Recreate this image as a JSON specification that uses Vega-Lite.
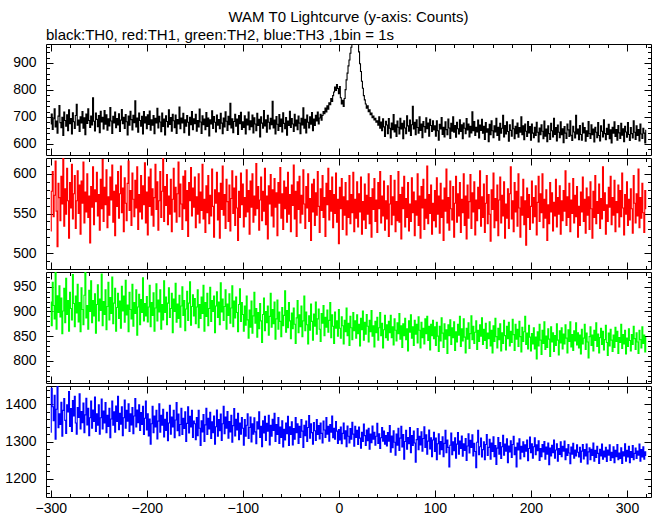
{
"$schema":"https://vega.github.io/schema/vega-lite/v6.json",
"padding":{"left":4,"right":2,"top":10,"bottom":0},
"title":{"text":"WAM T0 Lightcurve (y-axis: Counts)","anchor":"middle","frame":"group","offset":2},
"config":{"view":{"stroke":"black","strokeWidth":1},"title":{"font":"Liberation Sans","fontSize":15,"fontWeight":"normal","color":"black"},"axis":{"grid":false,"domain":false,"ticks":true,"zindex":1,"tickColor":"black","tickWidth":1,"labelColor":"black","labelFont":"Liberation Sans","labelFontSize":14,"labelPadding":10,"tickSize":7,"offset":-7,"labels":false,"format":"d"}},
"spacing":1,
"datasets":{
"one":[{"t":0,"a":700,"b":550,"c":880,"d":1300}],
"lc":[
{"t":-300,"a":674,"b":528,"c":919,"d":1325},{"t":-299,"a":711,"b":578,"c":871,"d":1444},{"t":-298,"a":654,"b":603,"c":959,"d":1394},{"t":-297,"a":693,"b":546,"c":912,"d":1356},{"t":-296,"a":730,"b":573,"c":885,"d":1425},{"t":-295,"a":663,"b":616,"c":986,"d":1306},{"t":-294,"a":685,"b":553,"c":864,"d":1387},{"t":-293,"a":640,"b":508,"c":932,"d":1456},{"t":-292,"a":703,"b":588,"c":898,"d":1337},{"t":-291,"a":742,"b":570,"c":952,"d":1375},
{"t":-290,"a":679,"b":541,"c":889,"d":1346},{"t":-289,"a":660,"b":597,"c":927,"d":1406},{"t":-288,"a":699,"b":562,"c":855,"d":1314},{"t":-287,"a":631,"b":625,"c":901,"d":1384},{"t":-286,"a":718,"b":534,"c":947,"d":1416},{"t":-285,"a":687,"b":581,"c":877,"d":1357},{"t":-284,"a":666,"b":549,"c":967,"d":1322},{"t":-283,"a":708,"b":607,"c":894,"d":1399},{"t":-282,"a":649,"b":566,"c":922,"d":1380},{"t":-281,"a":726,"b":519,"c":860,"d":1435},
{"t":-280,"a":675,"b":589,"c":939,"d":1341},{"t":-279,"a":694,"b":557,"c":906,"d":1389},{"t":-278,"a":637,"b":612,"c":883,"d":1327},{"t":-277,"a":715,"b":543,"c":975,"d":1411},{"t":-276,"a":682,"b":575,"c":916,"d":1369},{"t":-275,"a":657,"b":598,"c":869,"d":1422},{"t":-274,"a":705,"b":531,"c":931,"d":1350},{"t":-273,"a":747,"b":566,"c":897,"d":1320},{"t":-272,"a":669,"b":604,"c":955,"d":1392},{"t":-271,"a":688,"b":550,"c":879,"d":1365},
{"t":-270,"a":646,"b":586,"c":918,"d":1429},{"t":-269,"a":700,"b":524,"c":859,"d":1334},{"t":-268,"a":678,"b":591,"c":948,"d":1381},{"t":-267,"a":720,"b":563,"c":904,"d":1351},{"t":-266,"a":658,"b":615,"c":873,"d":1404},{"t":-265,"a":697,"b":538,"c":933,"d":1324},{"t":-264,"a":634,"b":577,"c":983,"d":1372},{"t":-263,"a":711,"b":552,"c":887,"d":1417},{"t":-262,"a":676,"b":600,"c":912,"d":1345},{"t":-261,"a":730,"b":545,"c":864,"d":1390},
{"t":-260,"a":687,"b":572,"c":943,"d":1316},{"t":-259,"a":661,"b":513,"c":900,"d":1364},{"t":-258,"a":703,"b":584,"c":962,"d":1409},{"t":-257,"a":670,"b":558,"c":877,"d":1336},{"t":-256,"a":771,"b":609,"c":922,"d":1385},{"t":-255,"a":684,"b":536,"c":891,"d":1354},{"t":-254,"a":648,"b":580,"c":936,"d":1420},{"t":-253,"a":714,"b":565,"c":856,"d":1327},{"t":-252,"a":691,"b":602,"c":914,"d":1375},{"t":-251,"a":664,"b":547,"c":954,"d":1344},
{"t":-250,"a":705,"b":574,"c":881,"d":1399},{"t":-249,"a":642,"b":529,"c":925,"d":1320},{"t":-248,"a":721,"b":593,"c":902,"d":1364},{"t":-247,"a":681,"b":556,"c":976,"d":1415},{"t":-246,"a":699,"b":618,"c":871,"d":1334},{"t":-245,"a":655,"b":540,"c":920,"d":1382},{"t":-244,"a":724,"b":583,"c":894,"d":1350},{"t":-243,"a":673,"b":561,"c":944,"d":1405},{"t":-242,"a":708,"b":605,"c":863,"d":1324},{"t":-241,"a":651,"b":532,"c":910,"d":1371},
{"t":-240,"a":693,"b":571,"c":959,"d":1341},{"t":-239,"a":667,"b":548,"c":883,"d":1390},{"t":-238,"a":735,"b":596,"c":928,"d":1310},{"t":-237,"a":685,"b":567,"c":896,"d":1361},{"t":-236,"a":639,"b":611,"c":970,"d":1409},{"t":-235,"a":702,"b":539,"c":875,"d":1344},{"t":-234,"a":678,"b":578,"c":917,"d":1380},{"t":-233,"a":718,"b":522,"c":947,"d":1325},{"t":-232,"a":660,"b":586,"c":860,"d":1396},{"t":-231,"a":694,"b":559,"c":908,"d":1354},
{"t":-230,"a":670,"b":603,"c":937,"d":1422},{"t":-229,"a":712,"b":544,"c":886,"d":1332},{"t":-228,"a":646,"b":575,"c":921,"d":1376},{"t":-227,"a":688,"b":610,"c":866,"d":1347},{"t":-226,"a":727,"b":551,"c":951,"d":1394},{"t":-225,"a":675,"b":582,"c":901,"d":1316},{"t":-224,"a":699,"b":527,"c":931,"d":1364},{"t":-223,"a":657,"b":595,"c":878,"d":1412},{"t":-222,"a":709,"b":563,"c":963,"d":1336},{"t":-221,"a":682,"b":541,"c":893,"d":1384},
{"t":-220,"a":633,"b":588,"c":913,"d":1355},{"t":-219,"a":703,"b":616,"c":859,"d":1402},{"t":-218,"a":669,"b":554,"c":939,"d":1327},{"t":-217,"a":721,"b":579,"c":904,"d":1375},{"t":-216,"a":690,"b":535,"c":885,"d":1345},{"t":-215,"a":652,"b":601,"c":955,"d":1392},{"t":-214,"a":706,"b":568,"c":870,"d":1321},{"t":-213,"a":679,"b":546,"c":918,"d":1369},{"t":-212,"a":760,"b":592,"c":896,"d":1416},{"t":-211,"a":663,"b":557,"c":944,"d":1339},
{"t":-210,"a":696,"b":609,"c":852,"d":1385},{"t":-209,"a":643,"b":530,"c":909,"d":1351},{"t":-208,"a":714,"b":574,"c":935,"d":1399},{"t":-207,"a":687,"b":552,"c":873,"d":1330},{"t":-206,"a":666,"b":598,"c":924,"d":1378},{"t":-205,"a":702,"b":543,"c":898,"d":1346},{"t":-204,"a":637,"b":585,"c":968,"d":1395},{"t":-203,"a":720,"b":561,"c":881,"d":1319},{"t":-202,"a":678,"b":614,"c":916,"d":1363},{"t":-201,"a":700,"b":538,"c":891,"d":1409},
{"t":-200,"a":656,"b":577,"c":930,"d":1331},{"t":-199,"a":708,"b":523,"c":879,"d":1375},{"t":-198,"a":672,"b":596,"c":909,"d":1315},{"t":-197,"a":722,"b":559,"c":953,"d":1361},{"t":-196,"a":651,"b":606,"c":869,"d":1293},{"t":-195,"a":689,"b":548,"c":918,"d":1348},{"t":-194,"a":669,"b":581,"c":892,"d":1395},{"t":-193,"a":705,"b":534,"c":938,"d":1324},{"t":-192,"a":638,"b":570,"c":860,"d":1369},{"t":-191,"a":695,"b":612,"c":907,"d":1339},
{"t":-190,"a":678,"b":555,"c":956,"d":1384},{"t":-189,"a":732,"b":590,"c":881,"d":1307},{"t":-188,"a":659,"b":529,"c":923,"d":1355},{"t":-187,"a":702,"b":566,"c":899,"d":1402},{"t":-186,"a":681,"b":603,"c":944,"d":1325},{"t":-185,"a":645,"b":545,"c":864,"d":1371},{"t":-184,"a":714,"b":578,"c":914,"d":1344},{"t":-183,"a":665,"b":620,"c":883,"d":1387},{"t":-182,"a":692,"b":540,"c":962,"d":1312},{"t":-181,"a":633,"b":584,"c":898,"d":1360},
{"t":-180,"a":704,"b":560,"c":929,"d":1330},{"t":-179,"a":683,"b":599,"c":873,"d":1379},{"t":-178,"a":663,"b":536,"c":917,"d":1302},{"t":-177,"a":726,"b":572,"c":948,"d":1350},{"t":-176,"a":672,"b":549,"c":888,"d":1398},{"t":-175,"a":698,"b":593,"c":906,"d":1320},{"t":-174,"a":647,"b":527,"c":937,"d":1366},{"t":-173,"a":710,"b":568,"c":857,"d":1339},{"t":-172,"a":686,"b":607,"c":925,"d":1384},{"t":-171,"a":660,"b":552,"c":900,"d":1310},
{"t":-170,"a":707,"b":583,"c":957,"d":1358},{"t":-169,"a":639,"b":539,"c":878,"d":1405},{"t":-168,"a":690,"b":575,"c":915,"d":1329},{"t":-167,"a":674,"b":615,"c":886,"d":1374},{"t":-166,"a":737,"b":546,"c":933,"d":1316},{"t":-165,"a":656,"b":587,"c":868,"d":1346},{"t":-164,"a":696,"b":562,"c":911,"d":1390},{"t":-163,"a":678,"b":530,"c":950,"d":1319},{"t":-162,"a":713,"b":597,"c":892,"d":1363},{"t":-161,"a":642,"b":556,"c":922,"d":1335},
{"t":-160,"a":689,"b":604,"c":861,"d":1380},{"t":-159,"a":666,"b":541,"c":905,"d":1300},{"t":-158,"a":705,"b":579,"c":941,"d":1349},{"t":-157,"a":680,"b":521,"c":882,"d":1394},{"t":-156,"a":632,"b":589,"c":917,"d":1323},{"t":-155,"a":699,"b":566,"c":960,"d":1368},{"t":-154,"a":671,"b":608,"c":872,"d":1339},{"t":-153,"a":720,"b":547,"c":910,"d":1384},{"t":-152,"a":653,"b":582,"c":934,"d":1311},{"t":-151,"a":693,"b":558,"c":891,"d":1355},
{"t":-150,"a":675,"b":596,"c":926,"d":1348},{"t":-149,"a":710,"b":532,"c":875,"d":1305},{"t":-148,"a":647,"b":571,"c":909,"d":1365},{"t":-147,"a":687,"b":549,"c":944,"d":1316},{"t":-146,"a":663,"b":600,"c":867,"d":1384},{"t":-145,"a":729,"b":538,"c":914,"d":1336},{"t":-144,"a":681,"b":577,"c":886,"d":1289},{"t":-143,"a":639,"b":554,"c":929,"d":1356},{"t":-142,"a":704,"b":612,"c":896,"d":1326},{"t":-141,"a":671,"b":543,"c":953,"d":1373},
{"t":-140,"a":692,"b":568,"c":860,"d":1300},{"t":-139,"a":653,"b":526,"c":918,"d":1345},{"t":-138,"a":716,"b":585,"c":890,"d":1390},{"t":-137,"a":665,"b":551,"c":937,"d":1319},{"t":-136,"a":696,"b":598,"c":871,"d":1363},{"t":-135,"a":630,"b":537,"c":906,"d":1334},{"t":-134,"a":689,"b":573,"c":949,"d":1379},{"t":-133,"a":674,"b":547,"c":880,"d":1308},{"t":-132,"a":723,"b":606,"c":922,"d":1353},{"t":-131,"a":657,"b":559,"c":900,"d":1324},
{"t":-130,"a":701,"b":520,"c":931,"d":1369},{"t":-129,"a":680,"b":580,"c":857,"d":1293},{"t":-128,"a":644,"b":563,"c":911,"d":1340},{"t":-127,"a":707,"b":602,"c":940,"d":1385},{"t":-126,"a":669,"b":542,"c":888,"d":1314},{"t":-125,"a":690,"b":576,"c":919,"d":1359},{"t":-124,"a":656,"b":519,"c":873,"d":1329},{"t":-123,"a":713,"b":588,"c":958,"d":1374},{"t":-122,"a":677,"b":555,"c":899,"d":1303},{"t":-121,"a":638,"b":610,"c":925,"d":1348},
{"t":-120,"a":696,"b":548,"c":882,"d":1395},{"t":-119,"a":663,"b":574,"c":910,"d":1321},{"t":-118,"a":719,"b":531,"c":944,"d":1366},{"t":-117,"a":684,"b":593,"c":864,"d":1336},{"t":-116,"a":650,"b":565,"c":915,"d":1381},{"t":-115,"a":702,"b":540,"c":892,"d":1309},{"t":-114,"a":671,"b":586,"c":936,"d":1354},{"t":-113,"a":750,"b":528,"c":876,"d":1326},{"t":-112,"a":659,"b":569,"c":907,"d":1371},{"t":-111,"a":693,"b":604,"c":952,"d":1298},
{"t":-110,"a":642,"b":550,"c":869,"d":1343},{"t":-109,"a":683,"b":582,"c":921,"d":1389},{"t":-108,"a":710,"b":535,"c":887,"d":1315},{"t":-107,"a":666,"b":597,"c":929,"d":1360},{"t":-106,"a":692,"b":557,"c":898,"d":1331},{"t":-105,"a":635,"b":516,"c":859,"d":1376},{"t":-104,"a":705,"b":578,"c":914,"d":1305},{"t":-103,"a":675,"b":545,"c":946,"d":1350},{"t":-102,"a":717,"b":601,"c":880,"d":1320},{"t":-101,"a":654,"b":561,"c":918,"d":1365},
{"t":-100,"a":682,"b":587,"c":894,"d":1336},{"t":-99,"a":661,"b":533,"c":860,"d":1290},{"t":-98,"a":704,"b":570,"c":911,"d":1359},{"t":-97,"a":637,"b":546,"c":872,"d":1314},{"t":-96,"a":692,"b":605,"c":931,"d":1344},{"t":-95,"a":670,"b":552,"c":883,"d":1375},{"t":-94,"a":718,"b":579,"c":846,"d":1308},{"t":-93,"a":653,"b":524,"c":903,"d":1338},{"t":-92,"a":686,"b":591,"c":868,"d":1366},{"t":-91,"a":664,"b":558,"c":921,"d":1299},
{"t":-90,"a":707,"b":600,"c":856,"d":1348},{"t":-89,"a":641,"b":539,"c":891,"d":1320},{"t":-88,"a":697,"b":572,"c":939,"d":1364},{"t":-87,"a":674,"b":548,"c":876,"d":1326},{"t":-86,"a":649,"b":613,"c":906,"d":1294},{"t":-85,"a":713,"b":556,"c":848,"d":1353},{"t":-84,"a":668,"b":584,"c":898,"d":1334},{"t":-83,"a":691,"b":529,"c":865,"d":1380},{"t":-82,"a":626,"b":567,"c":916,"d":1311},{"t":-81,"a":700,"b":596,"c":881,"d":1341},
{"t":-80,"a":677,"b":541,"c":837,"d":1286},{"t":-79,"a":658,"b":578,"c":894,"d":1356},{"t":-78,"a":724,"b":553,"c":927,"d":1323},{"t":-77,"a":667,"b":607,"c":861,"d":1368},{"t":-76,"a":689,"b":536,"c":900,"d":1303},{"t":-75,"a":643,"b":572,"c":877,"d":1349},{"t":-74,"a":706,"b":518,"c":911,"d":1328},{"t":-73,"a":680,"b":585,"c":852,"d":1371},{"t":-72,"a":655,"b":562,"c":890,"d":1291},{"t":-71,"a":695,"b":599,"c":937,"d":1344},
{"t":-70,"a":671,"b":547,"c":868,"d":1314},{"t":-69,"a":758,"b":580,"c":904,"d":1360},{"t":-68,"a":659,"b":533,"c":875,"d":1330},{"t":-67,"a":688,"b":594,"c":919,"d":1376},{"t":-66,"a":637,"b":558,"c":844,"d":1300},{"t":-65,"a":701,"b":576,"c":885,"d":1346},{"t":-64,"a":673,"b":522,"c":923,"d":1319},{"t":-63,"a":650,"b":589,"c":864,"d":1365},{"t":-62,"a":709,"b":563,"c":899,"d":1295},{"t":-61,"a":665,"b":608,"c":880,"d":1339},
{"t":-60,"a":692,"b":544,"c":849,"d":1311},{"t":-59,"a":644,"b":575,"c":908,"d":1356},{"t":-58,"a":715,"b":530,"c":871,"d":1285},{"t":-57,"a":676,"b":591,"c":892,"d":1333},{"t":-56,"a":656,"b":556,"c":942,"d":1304},{"t":-55,"a":698,"b":583,"c":858,"d":1350},{"t":-54,"a":632,"b":539,"c":902,"d":1321},{"t":-53,"a":685,"b":602,"c":867,"d":1368},{"t":-52,"a":668,"b":549,"c":918,"d":1289},{"t":-51,"a":721,"b":574,"c":881,"d":1340},
{"t":-50,"a":661,"b":527,"c":845,"d":1319},{"t":-49,"a":694,"b":586,"c":897,"d":1353},{"t":-48,"a":674,"b":560,"c":865,"d":1291},{"t":-47,"a":646,"b":611,"c":907,"d":1335},{"t":-46,"a":710,"b":543,"c":874,"d":1306},{"t":-45,"a":667,"b":578,"c":835,"d":1365},{"t":-44,"a":688,"b":521,"c":887,"d":1324},{"t":-43,"a":653,"b":590,"c":922,"d":1348},{"t":-42,"a":703,"b":555,"c":857,"d":1295},{"t":-41,"a":677,"b":597,"c":893,"d":1341},
{"t":-40,"a":638,"b":538,"c":869,"d":1311},{"t":-39,"a":695,"b":573,"c":911,"d":1359},{"t":-38,"a":670,"b":549,"c":849,"d":1328},{"t":-37,"a":734,"b":605,"c":881,"d":1284},{"t":-36,"a":658,"b":562,"c":931,"d":1344},{"t":-35,"a":691,"b":531,"c":861,"d":1316},{"t":-34,"a":641,"b":584,"c":899,"d":1355},{"t":-33,"a":707,"b":557,"c":873,"d":1300},{"t":-32,"a":680,"b":600,"c":834,"d":1338},{"t":-31,"a":659,"b":540,"c":891,"d":1370},
{"t":-30,"a":700,"b":569,"c":862,"d":1309},{"t":-29,"a":673,"b":516,"c":915,"d":1348},{"t":-28,"a":716,"b":587,"c":880,"d":1324},{"t":-27,"a":649,"b":552,"c":842,"d":1293},{"t":-26,"a":692,"b":593,"c":895,"d":1351},{"t":-25,"a":668,"b":535,"c":870,"d":1329},{"t":-24,"a":706,"b":576,"c":919,"d":1303},{"t":-23,"a":685,"b":548,"c":854,"d":1359},{"t":-22,"a":718,"b":603,"c":885,"d":1319},{"t":-21,"a":674,"b":559,"c":905,"d":1343},
{"t":-20,"a":696,"b":526,"c":864,"d":1307},{"t":-19,"a":710,"b":581,"c":839,"d":1350},{"t":-18,"a":688,"b":554,"c":896,"d":1322},{"t":-17,"a":705,"b":598,"c":876,"d":1296},{"t":-16,"a":720,"b":545,"c":912,"d":1355},{"t":-15,"a":712,"b":570,"c":851,"d":1331},{"t":-14,"a":733,"b":521,"c":888,"d":1311},{"t":-13,"a":718,"b":588,"c":868,"d":1365},{"t":-12,"a":741,"b":561,"c":903,"d":1320},{"t":-11,"a":729,"b":607,"c":858,"d":1341},
{"t":-10,"a":752,"b":542,"c":882,"d":1301},{"t":-9,"a":745,"b":579,"c":918,"d":1346},{"t":-8,"a":768,"b":553,"c":847,"d":1325},{"t":-7,"a":757,"b":596,"c":893,"d":1369},{"t":-6,"a":779,"b":532,"c":870,"d":1310},{"t":-5,"a":792,"b":574,"c":835,"d":1336},{"t":-4,"a":811,"b":550,"c":899,"d":1306},{"t":-3,"a":798,"b":601,"c":866,"d":1354},{"t":-2,"a":820,"b":539,"c":881,"d":1328},{"t":-1,"a":805,"b":568,"c":850,"d":1295},
{"t":0,"a":786,"b":512,"c":904,"d":1332},{"t":1,"a":812,"b":583,"c":866,"d":1304},{"t":2,"a":771,"b":556,"c":846,"d":1339},{"t":3,"a":748,"b":594,"c":889,"d":1294},{"t":4,"a":762,"b":530,"c":871,"d":1322},{"t":5,"a":739,"b":571,"c":834,"d":1350},{"t":6,"a":768,"b":548,"c":882,"d":1307},{"t":7,"a":801,"b":589,"c":859,"d":1329},{"t":8,"a":837,"b":523,"c":907,"d":1286},{"t":9,"a":862,"b":566,"c":851,"d":1342},
{"t":10,"a":889,"b":545,"c":876,"d":1314},{"t":11,"a":911,"b":598,"c":831,"d":1296},{"t":12,"a":936,"b":537,"c":890,"d":1335},{"t":13,"a":958,"b":574,"c":867,"d":1306},{"t":14,"a":985,"b":551,"c":843,"d":1352},{"t":15,"a":1012,"b":602,"c":898,"d":1320},{"t":16,"a":978,"b":527,"c":861,"d":1287},{"t":17,"a":1004,"b":568,"c":881,"d":1341},{"t":18,"a":992,"b":544,"c":846,"d":1311},{"t":19,"a":1021,"b":590,"c":893,"d":1330},
{"t":20,"a":968,"b":533,"c":855,"d":1292},{"t":21,"a":941,"b":575,"c":874,"d":1339},{"t":22,"a":897,"b":552,"c":830,"d":1309},{"t":23,"a":868,"b":596,"c":886,"d":1282},{"t":24,"a":832,"b":524,"c":863,"d":1325},{"t":25,"a":806,"b":565,"c":901,"d":1300},{"t":26,"a":779,"b":542,"c":842,"d":1347},{"t":27,"a":763,"b":587,"c":878,"d":1316},{"t":28,"a":748,"b":531,"c":854,"d":1289},{"t":29,"a":732,"b":573,"c":894,"d":1331},
{"t":30,"a":741,"b":549,"c":870,"d":1302},{"t":31,"a":719,"b":600,"c":838,"d":1336},{"t":32,"a":726,"b":537,"c":882,"d":1279},{"t":33,"a":708,"b":570,"c":859,"d":1320},{"t":34,"a":714,"b":520,"c":902,"d":1297},{"t":35,"a":697,"b":581,"c":850,"d":1342},{"t":36,"a":703,"b":555,"c":871,"d":1306},{"t":37,"a":689,"b":594,"c":828,"d":1325},{"t":38,"a":695,"b":540,"c":880,"d":1290},{"t":39,"a":680,"b":567,"c":857,"d":1314},
{"t":40,"a":686,"b":526,"c":888,"d":1349},{"t":41,"a":669,"b":589,"c":842,"d":1295},{"t":42,"a":700,"b":556,"c":867,"d":1321},{"t":43,"a":658,"b":603,"c":898,"d":1281},{"t":44,"a":681,"b":538,"c":851,"d":1310},{"t":45,"a":649,"b":572,"c":876,"d":1338},{"t":46,"a":693,"b":547,"c":826,"d":1301},{"t":47,"a":663,"b":591,"c":863,"d":1328},{"t":48,"a":628,"b":529,"c":892,"d":1293},{"t":49,"a":684,"b":566,"c":847,"d":1316},
{"t":50,"a":670,"b":543,"c":873,"d":1288},{"t":51,"a":638,"b":585,"c":842,"d":1324},{"t":52,"a":694,"b":521,"c":880,"d":1301},{"t":53,"a":658,"b":562,"c":857,"d":1343},{"t":54,"a":622,"b":598,"c":892,"d":1271},{"t":55,"a":677,"b":536,"c":847,"d":1315},{"t":56,"a":653,"b":571,"c":869,"d":1283},{"t":57,"a":709,"b":548,"c":832,"d":1329},{"t":58,"a":644,"b":592,"c":885,"d":1298},{"t":59,"a":671,"b":527,"c":862,"d":1263},
{"t":60,"a":628,"b":565,"c":840,"d":1320},{"t":61,"a":685,"b":541,"c":877,"d":1290},{"t":62,"a":662,"b":603,"c":855,"d":1336},{"t":63,"a":637,"b":539,"c":896,"d":1276},{"t":64,"a":695,"b":574,"c":844,"d":1309},{"t":65,"a":655,"b":518,"c":871,"d":1341},{"t":66,"a":676,"b":583,"c":827,"d":1285},{"t":67,"a":619,"b":556,"c":875,"d":1319},{"t":68,"a":686,"b":597,"c":851,"d":1252},{"t":69,"a":659,"b":533,"c":886,"d":1300},
{"t":70,"a":638,"b":569,"c":843,"d":1330},{"t":71,"a":704,"b":545,"c":865,"d":1279},{"t":72,"a":667,"b":589,"c":820,"d":1311},{"t":73,"a":647,"b":528,"c":881,"d":1294},{"t":74,"a":688,"b":562,"c":858,"d":1338},{"t":75,"a":631,"b":540,"c":893,"d":1270},{"t":76,"a":671,"b":595,"c":846,"d":1316},{"t":77,"a":739,"b":551,"c":869,"d":1289},{"t":78,"a":655,"b":577,"c":831,"d":1328},{"t":79,"a":680,"b":522,"c":882,"d":1296},
{"t":80,"a":634,"b":566,"c":854,"d":1244},{"t":81,"a":689,"b":548,"c":874,"d":1305},{"t":82,"a":661,"b":600,"c":836,"d":1335},{"t":83,"a":640,"b":535,"c":889,"d":1278},{"t":84,"a":700,"b":572,"c":862,"d":1314},{"t":85,"a":650,"b":519,"c":826,"d":1291},{"t":86,"a":674,"b":584,"c":878,"d":1326},{"t":87,"a":623,"b":557,"c":847,"d":1274},{"t":88,"a":683,"b":593,"c":866,"d":1308},{"t":89,"a":664,"b":530,"c":834,"d":1340},
{"t":90,"a":643,"b":568,"c":885,"d":1284},{"t":91,"a":697,"b":544,"c":855,"d":1318},{"t":92,"a":656,"b":610,"c":890,"d":1266},{"t":93,"a":677,"b":537,"c":841,"d":1301},{"t":94,"a":629,"b":574,"c":870,"d":1331},{"t":95,"a":691,"b":550,"c":822,"d":1280},{"t":96,"a":668,"b":586,"c":874,"d":1310},{"t":97,"a":646,"b":524,"c":851,"d":1259},{"t":98,"a":686,"b":563,"c":882,"d":1304},{"t":99,"a":652,"b":541,"c":845,"d":1325},
{"t":100,"a":667,"b":579,"c":869,"d":1273},{"t":101,"a":629,"b":533,"c":831,"d":1309},{"t":102,"a":686,"b":595,"c":878,"d":1251},{"t":103,"a":649,"b":549,"c":850,"d":1294},{"t":104,"a":614,"b":572,"c":819,"d":1321},{"t":105,"a":673,"b":525,"c":870,"d":1266},{"t":106,"a":655,"b":588,"c":840,"d":1300},{"t":107,"a":698,"b":545,"c":887,"d":1278},{"t":108,"a":635,"b":567,"c":856,"d":1313},{"t":109,"a":662,"b":516,"c":827,"d":1259},
{"t":110,"a":626,"b":582,"c":875,"d":1295},{"t":111,"a":682,"b":553,"c":844,"d":1330},{"t":112,"a":653,"b":606,"c":863,"d":1270},{"t":113,"a":634,"b":538,"c":815,"d":1304},{"t":114,"a":692,"b":570,"c":873,"d":1284},{"t":115,"a":659,"b":529,"c":851,"d":1231},{"t":116,"a":620,"b":591,"c":883,"d":1290},{"t":117,"a":676,"b":556,"c":833,"d":1323},{"t":118,"a":647,"b":542,"c":867,"d":1264},{"t":119,"a":700,"b":584,"c":847,"d":1299},
{"t":120,"a":643,"b":520,"c":879,"d":1275},{"t":121,"a":668,"b":563,"c":821,"d":1310},{"t":122,"a":625,"b":597,"c":859,"d":1255},{"t":123,"a":680,"b":539,"c":838,"d":1293},{"t":124,"a":656,"b":575,"c":874,"d":1324},{"t":125,"a":637,"b":547,"c":852,"d":1266},{"t":126,"a":689,"b":589,"c":890,"d":1301},{"t":127,"a":646,"b":526,"c":829,"d":1281},{"t":128,"a":671,"b":568,"c":865,"d":1315},{"t":129,"a":619,"b":551,"c":840,"d":1260},
{"t":130,"a":677,"b":600,"c":885,"d":1294},{"t":131,"a":658,"b":535,"c":848,"d":1276},{"t":132,"a":638,"b":572,"c":816,"d":1308},{"t":133,"a":694,"b":518,"c":866,"d":1249},{"t":134,"a":652,"b":586,"c":844,"d":1288},{"t":135,"a":674,"b":544,"c":877,"d":1321},{"t":136,"a":626,"b":565,"c":825,"d":1269},{"t":137,"a":665,"b":599,"c":855,"d":1303},{"t":138,"a":641,"b":531,"c":891,"d":1284},{"t":139,"a":719,"b":576,"c":843,"d":1318},
{"t":140,"a":649,"b":552,"c":870,"d":1261},{"t":141,"a":683,"b":590,"c":835,"d":1295},{"t":142,"a":631,"b":523,"c":858,"d":1273},{"t":143,"a":662,"b":567,"c":881,"d":1229},{"t":144,"a":644,"b":541,"c":823,"d":1298},{"t":145,"a":688,"b":583,"c":862,"d":1330},{"t":146,"a":622,"b":556,"c":839,"d":1264},{"t":147,"a":670,"b":604,"c":873,"d":1286},{"t":148,"a":650,"b":534,"c":850,"d":1309},{"t":149,"a":691,"b":571,"c":887,"d":1258},
{"t":150,"a":640,"b":545,"c":833,"d":1278},{"t":151,"a":665,"b":587,"c":864,"d":1299},{"t":152,"a":617,"b":526,"c":841,"d":1251},{"t":153,"a":679,"b":563,"c":876,"d":1292},{"t":154,"a":643,"b":598,"c":825,"d":1319},{"t":155,"a":656,"b":537,"c":856,"d":1262},{"t":156,"a":608,"b":574,"c":845,"d":1284},{"t":157,"a":673,"b":549,"c":879,"d":1306},{"t":158,"a":634,"b":515,"c":830,"d":1252},{"t":159,"a":686,"b":580,"c":862,"d":1296},
{"t":160,"a":649,"b":555,"c":816,"d":1273},{"t":161,"a":623,"b":601,"c":871,"d":1313},{"t":162,"a":667,"b":532,"c":839,"d":1259},{"t":163,"a":644,"b":569,"c":886,"d":1289},{"t":164,"a":695,"b":541,"c":849,"d":1238},{"t":165,"a":631,"b":586,"c":826,"d":1282},{"t":166,"a":662,"b":522,"c":866,"d":1311},{"t":167,"a":614,"b":567,"c":843,"d":1266},{"t":168,"a":676,"b":596,"c":875,"d":1297},{"t":169,"a":640,"b":538,"c":820,"d":1254},
{"t":170,"a":658,"b":573,"c":857,"d":1286},{"t":171,"a":706,"b":547,"c":835,"d":1317},{"t":172,"a":626,"b":590,"c":882,"d":1263},{"t":173,"a":668,"b":519,"c":851,"d":1293},{"t":174,"a":637,"b":562,"c":822,"d":1274},{"t":175,"a":682,"b":544,"c":870,"d":1307},{"t":176,"a":646,"b":581,"c":845,"d":1243},{"t":177,"a":610,"b":531,"c":878,"d":1288},{"t":178,"a":671,"b":575,"c":830,"d":1272},{"t":179,"a":650,"b":609,"c":860,"d":1302},
{"t":180,"a":629,"b":543,"c":837,"d":1257},{"t":181,"a":689,"b":566,"c":884,"d":1292},{"t":182,"a":656,"b":527,"c":853,"d":1314},{"t":183,"a":619,"b":589,"c":821,"d":1264},{"t":184,"a":665,"b":552,"c":874,"d":1284},{"t":185,"a":638,"b":578,"c":844,"d":1231},{"t":186,"a":677,"b":534,"c":864,"d":1296},{"t":187,"a":625,"b":600,"c":829,"d":1277},{"t":188,"a":661,"b":557,"c":880,"d":1307},{"t":189,"a":643,"b":520,"c":849,"d":1253},
{"t":190,"a":700,"b":571,"c":818,"d":1287},{"t":191,"a":634,"b":548,"c":868,"d":1271},{"t":192,"a":667,"b":593,"c":839,"d":1299},{"t":193,"a":616,"b":536,"c":859,"d":1259},{"t":194,"a":674,"b":566,"c":890,"d":1291},{"t":195,"a":647,"b":510,"c":833,"d":1274},{"t":196,"a":628,"b":582,"c":856,"d":1304},{"t":197,"a":683,"b":545,"c":824,"d":1248},{"t":198,"a":641,"b":574,"c":872,"d":1281},{"t":199,"a":664,"b":530,"c":848,"d":1312},
{"t":200,"a":614,"b":559,"c":820,"d":1270},{"t":201,"a":674,"b":591,"c":855,"d":1294},{"t":202,"a":640,"b":538,"c":834,"d":1255},{"t":203,"a":623,"b":570,"c":867,"d":1286},{"t":204,"a":662,"b":546,"c":824,"d":1310},{"t":205,"a":631,"b":585,"c":848,"d":1264},{"t":206,"a":680,"b":523,"c":804,"d":1291},{"t":207,"a":643,"b":564,"c":859,"d":1275},{"t":208,"a":607,"b":597,"c":830,"d":1302},{"t":209,"a":659,"b":540,"c":874,"d":1249},
{"t":210,"a":634,"b":575,"c":842,"d":1281},{"t":211,"a":671,"b":551,"c":813,"d":1259},{"t":212,"a":647,"b":600,"c":862,"d":1292},{"t":213,"a":619,"b":532,"c":835,"d":1272},{"t":214,"a":685,"b":568,"c":879,"d":1300},{"t":215,"a":629,"b":544,"c":823,"d":1252},{"t":216,"a":655,"b":580,"c":850,"d":1285},{"t":217,"a":608,"b":516,"c":827,"d":1266},{"t":218,"a":667,"b":561,"c":865,"d":1296},{"t":219,"a":638,"b":537,"c":844,"d":1237},
{"t":220,"a":617,"b":589,"c":809,"d":1282},{"t":221,"a":676,"b":552,"c":869,"d":1261},{"t":222,"a":649,"b":576,"c":838,"d":1290},{"t":223,"a":626,"b":528,"c":857,"d":1270},{"t":224,"a":695,"b":564,"c":819,"d":1304},{"t":225,"a":635,"b":547,"c":851,"d":1255},{"t":226,"a":661,"b":593,"c":831,"d":1277},{"t":227,"a":611,"b":533,"c":875,"d":1294},{"t":228,"a":670,"b":570,"c":842,"d":1247},{"t":229,"a":643,"b":549,"c":812,"d":1281},
{"t":230,"a":623,"b":585,"c":861,"d":1265},{"t":231,"a":682,"b":524,"c":836,"d":1299},{"t":232,"a":634,"b":566,"c":867,"d":1259},{"t":233,"a":656,"b":541,"c":824,"d":1287},{"t":234,"a":605,"b":579,"c":854,"d":1274},{"t":235,"a":664,"b":553,"c":834,"d":1301},{"t":236,"a":640,"b":604,"c":873,"d":1251},{"t":237,"a":620,"b":535,"c":846,"d":1280},{"t":238,"a":674,"b":571,"c":816,"d":1262},{"t":239,"a":652,"b":545,"c":863,"d":1292},
{"t":240,"a":628,"b":588,"c":839,"d":1269},{"t":241,"a":686,"b":527,"c":879,"d":1240},{"t":242,"a":632,"b":567,"c":828,"d":1285},{"t":243,"a":613,"b":550,"c":853,"d":1266},{"t":244,"a":665,"b":594,"c":821,"d":1295},{"t":245,"a":644,"b":538,"c":861,"d":1255},{"t":246,"a":622,"b":573,"c":840,"d":1277},{"t":247,"a":706,"b":546,"c":877,"d":1261},{"t":248,"a":637,"b":584,"c":832,"d":1291},{"t":249,"a":655,"b":520,"c":857,"d":1271},
{"t":250,"a":616,"b":559,"c":826,"d":1258},{"t":251,"a":668,"b":535,"c":852,"d":1284},{"t":252,"a":635,"b":577,"c":814,"d":1244},{"t":253,"a":614,"b":552,"c":864,"d":1274},{"t":254,"a":677,"b":596,"c":834,"d":1292},{"t":255,"a":641,"b":540,"c":846,"d":1253},{"t":256,"a":661,"b":568,"c":874,"d":1278},{"t":257,"a":610,"b":525,"c":823,"d":1261},{"t":258,"a":649,"b":582,"c":856,"d":1293},{"t":259,"a":628,"b":548,"c":838,"d":1239},
{"t":260,"a":683,"b":571,"c":806,"d":1272},{"t":261,"a":638,"b":530,"c":849,"d":1283},{"t":262,"a":620,"b":590,"c":869,"d":1251},{"t":263,"a":671,"b":556,"c":831,"d":1279},{"t":264,"a":634,"b":519,"c":852,"d":1262},{"t":265,"a":655,"b":578,"c":820,"d":1296},{"t":266,"a":607,"b":545,"c":862,"d":1247},{"t":267,"a":662,"b":598,"c":841,"d":1276},{"t":268,"a":643,"b":537,"c":877,"d":1257},{"t":269,"a":623,"b":565,"c":829,"d":1287},
{"t":270,"a":679,"b":550,"c":854,"d":1268},{"t":271,"a":631,"b":587,"c":816,"d":1241},{"t":272,"a":611,"b":531,"c":847,"d":1279},{"t":273,"a":667,"b":569,"c":866,"d":1261},{"t":274,"a":647,"b":543,"c":833,"d":1293},{"t":275,"a":626,"b":609,"c":860,"d":1252},{"t":276,"a":689,"b":554,"c":822,"d":1274},{"t":277,"a":638,"b":576,"c":843,"d":1258},{"t":278,"a":616,"b":524,"c":872,"d":1284},{"t":279,"a":658,"b":561,"c":837,"d":1246},
{"t":280,"a":635,"b":540,"c":811,"d":1277},{"t":281,"a":673,"b":583,"c":856,"d":1263},{"t":282,"a":619,"b":558,"c":830,"d":1291},{"t":283,"a":652,"b":597,"c":864,"d":1249},{"t":284,"a":604,"b":536,"c":842,"d":1271},{"t":285,"a":662,"b":570,"c":819,"d":1256},{"t":286,"a":640,"b":548,"c":852,"d":1286},{"t":287,"a":682,"b":592,"c":827,"d":1243},{"t":288,"a":628,"b":527,"c":868,"d":1276},{"t":289,"a":653,"b":565,"c":839,"d":1259},
{"t":290,"a":614,"b":551,"c":860,"d":1292},{"t":291,"a":668,"b":586,"c":815,"d":1251},{"t":292,"a":641,"b":533,"c":847,"d":1269},{"t":293,"a":620,"b":579,"c":837,"d":1254},{"t":294,"a":676,"b":546,"c":874,"d":1283},{"t":295,"a":632,"b":601,"c":825,"d":1241},{"t":296,"a":656,"b":557,"c":853,"d":1272},{"t":297,"a":608,"b":523,"c":834,"d":1261},{"t":298,"a":665,"b":574,"c":862,"d":1294},{"t":299,"a":644,"b":549,"c":814,"d":1247},
{"t":300,"a":625,"b":590,"c":846,"d":1276},{"t":301,"a":679,"b":535,"c":829,"d":1258},{"t":302,"a":635,"b":568,"c":865,"d":1287},{"t":303,"a":613,"b":542,"c":841,"d":1243},{"t":304,"a":661,"b":581,"c":820,"d":1273},{"t":305,"a":638,"b":556,"c":853,"d":1257},{"t":306,"a":622,"b":525,"c":833,"d":1289},{"t":307,"a":686,"b":598,"c":870,"d":1251},{"t":308,"a":643,"b":563,"c":845,"d":1268},{"t":309,"a":617,"b":538,"c":823,"d":1282},
{"t":310,"a":667,"b":575,"c":857,"d":1254},{"t":311,"a":631,"b":547,"c":838,"d":1274},{"t":312,"a":653,"b":606,"c":815,"d":1263},{"t":313,"a":611,"b":532,"c":862,"d":1293},{"t":314,"a":674,"b":570,"c":843,"d":1247},{"t":315,"a":637,"b":544,"c":826,"d":1278},{"t":316,"a":620,"b":588,"c":869,"d":1258},{"t":317,"a":658,"b":551,"c":835,"d":1286},{"t":318,"a":640,"b":526,"c":852,"d":1252},{"t":319,"a":604,"b":579,"c":818,"d":1272},
{"t":320,"a":650,"b":556,"c":847,"d":1262}
]},
"vconcat":[
{"width":605,"height":111,
 "title":{"text":"black:TH0, red:TH1, green:TH2, blue:TH3 ,1bin = 1s","anchor":"start","frame":"group","offset":1},
 "layer":[
  {"data":{"name":"lc"},"mark":{"type":"line","interpolate":"step","color":"#000000","strokeWidth":1.1,"clip":true},
   "encoding":{"x":{"field":"t","type":"quantitative","title":null,"scale":{"domain":[-305,325],"nice":false,"zero":false},"axis":{"orient":"bottom","values":[-300,-200,-100,0,100,200,300]}},
   "y":{"field":"a","type":"quantitative","title":null,"scale":{"domain":[559,970],"nice":false,"zero":false},"axis":{"orient":"left","labels":true,"values":[600,700,800,900]}}}},
  {"data":{"name":"one"},"mark":{"type":"point","opacity":0},
   "encoding":{"x":{"field":"t","type":"quantitative","title":null,"scale":{"domain":[-305,325],"nice":false,"zero":false},"axis":{"orient":"top","values":[-300,-200,-100,0,100,200,300]}},
   "y":{"field":"a","type":"quantitative","title":null,"scale":{"domain":[559,970],"nice":false,"zero":false},"axis":{"orient":"right","values":[600,700,800,900]}}}},
  {"data":{"name":"one"},"mark":{"type":"point","opacity":0},
   "encoding":{"x":{"field":"t","type":"quantitative","title":null,"scale":{"domain":[-305,325],"nice":false,"zero":false},"axis":{"orient":"bottom","tickSize":3.5,"offset":-3.5,"values":[-300,-280,-260,-240,-220,-200,-180,-160,-140,-120,-100,-80,-60,-40,-20,0,20,40,60,80,100,120,140,160,180,200,220,240,260,280,300,320]}},
   "y":{"field":"a","type":"quantitative","title":null,"scale":{"domain":[559,970],"nice":false,"zero":false},"axis":{"orient":"left","tickSize":3.5,"offset":-3.5,"values":[580,600,620,640,660,680,700,720,740,760,780,800,820,840,860,880,900,920,940,960]}}}},
  {"data":{"name":"one"},"mark":{"type":"point","opacity":0},
   "encoding":{"x":{"field":"t","type":"quantitative","title":null,"scale":{"domain":[-305,325],"nice":false,"zero":false},"axis":{"orient":"top","tickSize":3.5,"offset":-3.5,"values":[-300,-280,-260,-240,-220,-200,-180,-160,-140,-120,-100,-80,-60,-40,-20,0,20,40,60,80,100,120,140,160,180,200,220,240,260,280,300,320]}},
   "y":{"field":"a","type":"quantitative","title":null,"scale":{"domain":[559,970],"nice":false,"zero":false},"axis":{"orient":"right","tickSize":3.5,"offset":-3.5,"values":[580,600,620,640,660,680,700,720,740,760,780,800,820,840,860,880,900,920,940,960]}}}}
 ],
 "resolve":{"axis":{"x":"independent","y":"independent"}}},
{"width":605,"height":111,
 "layer":[
  {"data":{"name":"lc"},"mark":{"type":"line","interpolate":"step","color":"#ff0000","strokeWidth":1.1,"clip":true},
   "encoding":{"x":{"field":"t","type":"quantitative","title":null,"scale":{"domain":[-305,325],"nice":false,"zero":false},"axis":{"orient":"bottom","values":[-300,-200,-100,0,100,200,300]}},
   "y":{"field":"b","type":"quantitative","title":null,"scale":{"domain":[480,620],"nice":false,"zero":false},"axis":{"orient":"left","labels":true,"values":[500,550,600]}}}},
  {"data":{"name":"one"},"mark":{"type":"point","opacity":0},
   "encoding":{"x":{"field":"t","type":"quantitative","title":null,"scale":{"domain":[-305,325],"nice":false,"zero":false},"axis":{"orient":"top","values":[-300,-200,-100,0,100,200,300]}},
   "y":{"field":"b","type":"quantitative","title":null,"scale":{"domain":[480,620],"nice":false,"zero":false},"axis":{"orient":"right","values":[500,550,600]}}}},
  {"data":{"name":"one"},"mark":{"type":"point","opacity":0},
   "encoding":{"x":{"field":"t","type":"quantitative","title":null,"scale":{"domain":[-305,325],"nice":false,"zero":false},"axis":{"orient":"bottom","tickSize":3.5,"offset":-3.5,"values":[-300,-280,-260,-240,-220,-200,-180,-160,-140,-120,-100,-80,-60,-40,-20,0,20,40,60,80,100,120,140,160,180,200,220,240,260,280,300,320]}},
   "y":{"field":"b","type":"quantitative","title":null,"scale":{"domain":[480,620],"nice":false,"zero":false},"axis":{"orient":"left","tickSize":3.5,"offset":-3.5,"values":[490,500,510,520,530,540,550,560,570,580,590,600,610]}}}},
  {"data":{"name":"one"},"mark":{"type":"point","opacity":0},
   "encoding":{"x":{"field":"t","type":"quantitative","title":null,"scale":{"domain":[-305,325],"nice":false,"zero":false},"axis":{"orient":"top","tickSize":3.5,"offset":-3.5,"values":[-300,-280,-260,-240,-220,-200,-180,-160,-140,-120,-100,-80,-60,-40,-20,0,20,40,60,80,100,120,140,160,180,200,220,240,260,280,300,320]}},
   "y":{"field":"b","type":"quantitative","title":null,"scale":{"domain":[480,620],"nice":false,"zero":false},"axis":{"orient":"right","tickSize":3.5,"offset":-3.5,"values":[490,500,510,520,530,540,550,560,570,580,590,600,610]}}}}
 ],
 "resolve":{"axis":{"x":"independent","y":"independent"}}},
{"width":605,"height":111,
 "layer":[
  {"data":{"name":"lc"},"mark":{"type":"line","interpolate":"step","color":"#00ff00","strokeWidth":1.1,"clip":true},
   "encoding":{"x":{"field":"t","type":"quantitative","title":null,"scale":{"domain":[-305,325],"nice":false,"zero":false},"axis":{"orient":"bottom","values":[-300,-200,-100,0,100,200,300]}},
   "y":{"field":"c","type":"quantitative","title":null,"scale":{"domain":[755,980],"nice":false,"zero":false},"axis":{"orient":"left","labels":true,"values":[800,850,900,950]}}}},
  {"data":{"name":"one"},"mark":{"type":"point","opacity":0},
   "encoding":{"x":{"field":"t","type":"quantitative","title":null,"scale":{"domain":[-305,325],"nice":false,"zero":false},"axis":{"orient":"top","values":[-300,-200,-100,0,100,200,300]}},
   "y":{"field":"c","type":"quantitative","title":null,"scale":{"domain":[755,980],"nice":false,"zero":false},"axis":{"orient":"right","values":[800,850,900,950]}}}},
  {"data":{"name":"one"},"mark":{"type":"point","opacity":0},
   "encoding":{"x":{"field":"t","type":"quantitative","title":null,"scale":{"domain":[-305,325],"nice":false,"zero":false},"axis":{"orient":"bottom","tickSize":3.5,"offset":-3.5,"values":[-300,-280,-260,-240,-220,-200,-180,-160,-140,-120,-100,-80,-60,-40,-20,0,20,40,60,80,100,120,140,160,180,200,220,240,260,280,300,320]}},
   "y":{"field":"c","type":"quantitative","title":null,"scale":{"domain":[755,980],"nice":false,"zero":false},"axis":{"orient":"left","tickSize":3.5,"offset":-3.5,"values":[760,770,780,790,800,810,820,830,840,850,860,870,880,890,900,910,920,930,940,950,960,970]}}}},
  {"data":{"name":"one"},"mark":{"type":"point","opacity":0},
   "encoding":{"x":{"field":"t","type":"quantitative","title":null,"scale":{"domain":[-305,325],"nice":false,"zero":false},"axis":{"orient":"top","tickSize":3.5,"offset":-3.5,"values":[-300,-280,-260,-240,-220,-200,-180,-160,-140,-120,-100,-80,-60,-40,-20,0,20,40,60,80,100,120,140,160,180,200,220,240,260,280,300,320]}},
   "y":{"field":"c","type":"quantitative","title":null,"scale":{"domain":[755,980],"nice":false,"zero":false},"axis":{"orient":"right","tickSize":3.5,"offset":-3.5,"values":[760,770,780,790,800,810,820,830,840,850,860,870,880,890,900,910,920,930,940,950,960,970]}}}}
 ],
 "resolve":{"axis":{"x":"independent","y":"independent"}}},
{"width":605,"height":111,
 "layer":[
  {"data":{"name":"lc"},"mark":{"type":"line","interpolate":"step","color":"#0000ff","strokeWidth":1.1,"clip":true},
   "encoding":{"x":{"field":"t","type":"quantitative","title":null,"scale":{"domain":[-305,325],"nice":false,"zero":false},"axis":{"orient":"bottom","labels":true,"labelPadding":4,"values":[-300,-200,-100,0,100,200,300]}},
   "y":{"field":"d","type":"quantitative","title":null,"scale":{"domain":[1150,1450],"nice":false,"zero":false},"axis":{"orient":"left","labels":true,"values":[1200,1300,1400]}}}},
  {"data":{"name":"one"},"mark":{"type":"point","opacity":0},
   "encoding":{"x":{"field":"t","type":"quantitative","title":null,"scale":{"domain":[-305,325],"nice":false,"zero":false},"axis":{"orient":"top","values":[-300,-200,-100,0,100,200,300]}},
   "y":{"field":"d","type":"quantitative","title":null,"scale":{"domain":[1150,1450],"nice":false,"zero":false},"axis":{"orient":"right","values":[1200,1300,1400]}}}},
  {"data":{"name":"one"},"mark":{"type":"point","opacity":0},
   "encoding":{"x":{"field":"t","type":"quantitative","title":null,"scale":{"domain":[-305,325],"nice":false,"zero":false},"axis":{"orient":"bottom","tickSize":3.5,"offset":-3.5,"values":[-300,-280,-260,-240,-220,-200,-180,-160,-140,-120,-100,-80,-60,-40,-20,0,20,40,60,80,100,120,140,160,180,200,220,240,260,280,300,320]}},
   "y":{"field":"d","type":"quantitative","title":null,"scale":{"domain":[1150,1450],"nice":false,"zero":false},"axis":{"orient":"left","tickSize":3.5,"offset":-3.5,"values":[1160,1180,1200,1220,1240,1260,1280,1300,1320,1340,1360,1380,1400,1420,1440]}}}},
  {"data":{"name":"one"},"mark":{"type":"point","opacity":0},
   "encoding":{"x":{"field":"t","type":"quantitative","title":null,"scale":{"domain":[-305,325],"nice":false,"zero":false},"axis":{"orient":"top","tickSize":3.5,"offset":-3.5,"values":[-300,-280,-260,-240,-220,-200,-180,-160,-140,-120,-100,-80,-60,-40,-20,0,20,40,60,80,100,120,140,160,180,200,220,240,260,280,300,320]}},
   "y":{"field":"d","type":"quantitative","title":null,"scale":{"domain":[1150,1450],"nice":false,"zero":false},"axis":{"orient":"right","tickSize":3.5,"offset":-3.5,"values":[1160,1180,1200,1220,1240,1260,1280,1300,1320,1340,1360,1380,1400,1420,1440]}}}}
 ],
 "resolve":{"axis":{"x":"independent","y":"independent"}}}
]
}
